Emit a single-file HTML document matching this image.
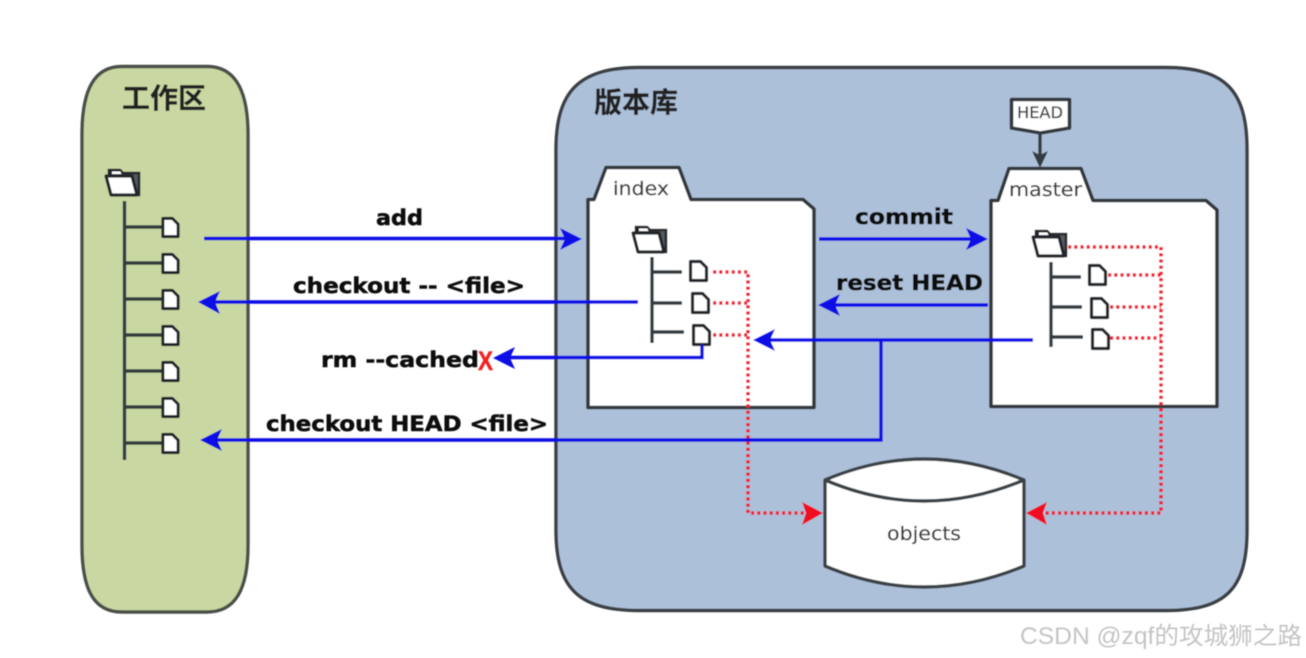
<!DOCTYPE html>
<html><head><meta charset="utf-8">
<style>
html,body{margin:0;padding:0;background:#fff;width:1306px;height:658px;overflow:hidden}
svg{display:block}
text{font-family:"DejaVu Sans","Noto Sans CJK SC",sans-serif}
.b{font-weight:bold;font-size:21px;fill:#111;stroke:#111;stroke-width:.5}
.t{font-family:"Liberation Sans","Noto Sans CJK SC",sans-serif;font-weight:bold;font-size:28px;fill:#222;stroke:#222;stroke-width:.3}
.n{fill:#3c3c3c;stroke:#3c3c3c;stroke-width:.25}
.l{fill:none;stroke:#333b3f;stroke-width:3.4}
.s{fill:#fff;stroke:#33393c;stroke-width:3.6;stroke-linejoin:round}
.blue{fill:none;stroke:#0a0ae6;stroke-width:3.4}
.red{fill:none;stroke:#f01c30;stroke-width:3.6;stroke-dasharray:3.2 3}
</style></head><body>
<svg width="1306" height="658" viewBox="0 0 1306 658" xmlns="http://www.w3.org/2000/svg">
<defs>
<symbol id="file" viewBox="0 0 19 22" overflow="visible"><path d="M1.500 1.500H11.500L17.500 7.500V20.500H1.500Z" fill="#fff" stroke="#23282a" stroke-width="3.200" stroke-linejoin="round"/></symbol>
<symbol id="folder" viewBox="0 0 36 30" overflow="visible">
<path d="M4 8V3H15L18 6H34V28H8Z" fill="#555b5e" stroke="#23282a" stroke-width="2.600"/>
<path d="M1 9H27L32 28H6Z" fill="#fff" stroke="#23282a" stroke-width="3.200" stroke-linejoin="round"/>
<path d="M6 8V3.500H16L18 8Z" fill="#fff" stroke="#23282a" stroke-width="2"/>
</symbol>
<filter id="soft" filterUnits="userSpaceOnUse" x="0" y="0" width="1306" height="658"><feGaussianBlur stdDeviation="0.6"/></filter>
</defs>
<g filter="url(#soft)">
<path d="M122 66.500H207C235 66.500 248 90 248 135V545C248 590 235 612 207 612H122C94 612 82 590 82 545V135C82 90 94 66.500 122 66.500Z" fill="#c9d8a3" stroke="#4b5048" stroke-width="3.400"/>
<path d="M640 67.500H1165C1225 67.500 1247 90 1247 150V530C1247 590 1225 610.500 1165 610.500H640C580 610.500 556 590 556 530V150C556 90 580 67.500 640 67.500Z" fill="#adc0da" stroke="#3a4044" stroke-width="3.400"/>

<text class="t" x="122" y="108" textLength="84" lengthAdjust="spacingAndGlyphs">工作区</text>
<text class="t" x="594" y="112" textLength="84" lengthAdjust="spacingAndGlyphs">版本库</text>

<!-- working tree -->
<use href="#folder" x="105" y="167" width="36" height="30"/>
<path class="l" d="M124.500 201V460M124 227H162M124 263H162M124 299H162M124 335H162M124 371H162M124 407H162M124 443H162"/>
<use href="#file" x="161" y="217" width="19" height="21"/>
<use href="#file" x="161" y="253" width="19" height="21"/>
<use href="#file" x="161" y="289" width="19" height="21"/>
<use href="#file" x="161" y="325" width="19" height="21"/>
<use href="#file" x="161" y="361" width="19" height="21"/>
<use href="#file" x="161" y="397" width="19" height="21"/>
<use href="#file" x="161" y="433" width="19" height="21"/>

<!-- index -->
<path class="s" d="M588 407.500V199.500H594L606 167.500H679L691 199.500H803L814 209V407.500Z"/>
<text class="n" x="613" y="195" font-size="19" textLength="56" lengthAdjust="spacingAndGlyphs">index</text>
<use href="#folder" x="632" y="224" width="36" height="30"/>
<path class="l" d="M652 257V343M652 272H682M652 303H682M652 332H684"/>
<use href="#file" x="689" y="260" width="19" height="22"/>
<use href="#file" x="691" y="292" width="19" height="22"/>
<use href="#file" x="692" y="324" width="19" height="22"/>

<!-- master -->
<path class="s" d="M991 406.500V200.500H998L1009 168.500H1081L1093 200.500H1206L1217 210V406.500Z"/>
<text class="n" x="1009" y="196" font-size="19" textLength="73" lengthAdjust="spacingAndGlyphs">master</text>
<use href="#folder" x="1032" y="228" width="36" height="30"/>
<path class="l" d="M1051 262V347M1051 277H1081M1051 307H1082M1051 337H1083"/>
<use href="#file" x="1088" y="264" width="19" height="22"/>
<use href="#file" x="1090" y="297" width="19" height="22"/>
<use href="#file" x="1091" y="328" width="19" height="22"/>

<!-- HEAD -->
<path class="s" d="M1011.500 99.500H1069.500V128L1040.500 133L1011.500 128Z"/>
<text class="n" x="1017" y="118" font-size="16" textLength="46" lengthAdjust="spacingAndGlyphs">HEAD</text>
<path d="M1040 133V155" stroke="#333b3f" stroke-width="3.400" fill="none"/>
<path d="M1040 168L1032 151L1040 155L1048 151Z" fill="#333b3f"/>

<!-- objects -->
<path d="M825 480Q924 438 1024 480V566Q924 608 825 566Z" fill="#fff" stroke="#3b4347" stroke-width="3.400" stroke-linejoin="round"/>
<path d="M825 480Q924 522 1024 480" fill="none" stroke="#3b4347" stroke-width="3.400"/>
<text class="n" x="887" y="540" font-size="19" textLength="74" lengthAdjust="spacingAndGlyphs">objects</text>

<!-- red dotted -->
<path class="red" d="M713 272H748V513H806M713 303H748M713 335H748"/>
<path class="red" d="M1068 247H1161V513H1044M1108 275H1161M1110 307H1161M1110 338H1161"/>
<path d="M823 513L802 502L806 513L802 525Z" fill="#f01020"/>
<path d="M1026 513L1047 502L1043 513L1047 525Z" fill="#f01020"/>

<!-- blue lines -->
<path class="blue" d="M204 238.500H568"/>
<path d="M582 239L560 228L565 239L560 250Z" fill="#0a0ae6"/>
<path class="blue" d="M819 239H975"/>
<path d="M988 239L966 228L971 239L966 250Z" fill="#0a0ae6"/>
<path class="blue" d="M638 302H212"/>
<path d="M198 302L220 291L215 302L220 314Z" fill="#0a0ae6"/>
<path class="blue" d="M988 305H832"/>
<path d="M818 305L840 294L835 305L840 316Z" fill="#0a0ae6"/>
<path class="blue" d="M702 345V357.500H508"/>
<path d="M493 358L515 347L510 358L515 369Z" fill="#0a0ae6"/>
<path class="blue" d="M1033 340H768"/>
<path d="M753 340L775 329L770 340L775 351Z" fill="#0a0ae6"/>
<path class="blue" d="M881 340V440H214"/>
<path d="M200 440L222 429L217 440L222 451Z" fill="#0a0ae6"/>

<!-- labels -->
<text class="b" x="376" y="225" textLength="47" lengthAdjust="spacingAndGlyphs">add</text>
<text class="b" x="293" y="293" textLength="232" lengthAdjust="spacingAndGlyphs">checkout -- &lt;file&gt;</text>
<text class="b" x="321" y="367" textLength="158" lengthAdjust="spacingAndGlyphs">rm --cached</text>
<text x="478" y="370" font-weight="bold" font-size="27" fill="#f02020" stroke="#f02020" stroke-width=".4" textLength="15" lengthAdjust="spacingAndGlyphs" style="font-family:'Liberation Sans',sans-serif">X</text>
<text class="b" x="266" y="431" textLength="282" lengthAdjust="spacingAndGlyphs">checkout HEAD &lt;file&gt;</text>
<text class="b" x="855" y="224" textLength="98" lengthAdjust="spacingAndGlyphs">commit</text>
<text class="b" x="836" y="290" textLength="147" lengthAdjust="spacingAndGlyphs">reset HEAD</text>

<text x="1020" y="644" font-size="24" fill="#c4c4c4" textLength="282" lengthAdjust="spacingAndGlyphs" style="font-family:'Liberation Sans','Noto Sans CJK SC',sans-serif">CSDN @zqf的攻城狮之路</text>
</g>
</svg>
</body></html>
